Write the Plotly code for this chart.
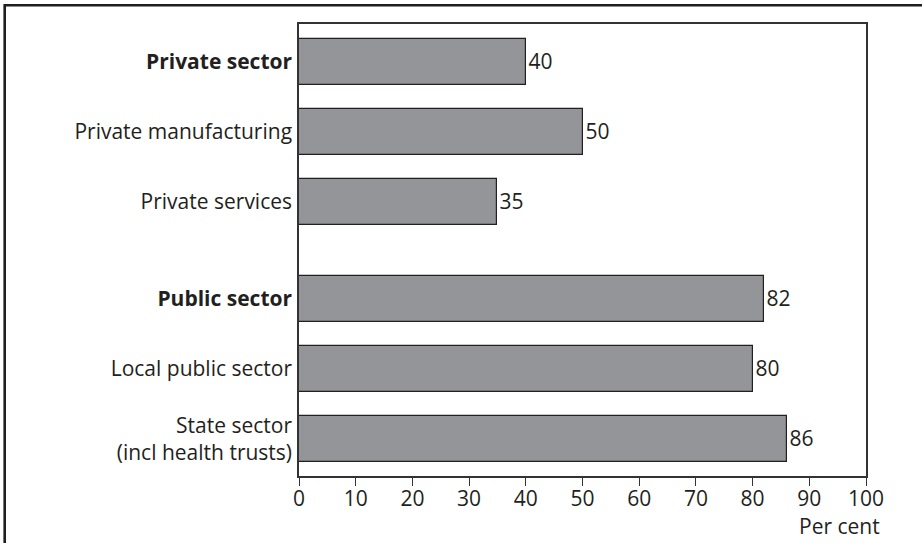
import plotly.graph_objects as go

# Share of employees, by sector (per cent)
categories = [
    "<b>Private sector</b>",
    "Private manufacturing",
    "Private services",
    "<b>Public sector</b>",
    "Local public sector",
    "State sector<br>(incl health trusts)",
]
values = [40, 50, 35, 82, 80, 86]
groups = [0, 0, 0, 1, 1, 1]
x_ticks = [0, 10, 20, 30, 40, 50, 60, 70, 80, 90, 100]

# Row positions: one slot per bar, with an extra gap between the two groups
GROUP_GAP = 0.38
y_pos = [i + g * GROUP_GAP for i, g in enumerate(groups)]

INK = "#231f20"
FONT = "Open Sans"
FS = 21

W, H = 922, 543
L, R, T, B = 299, 56, 24, 67
plot_w = W - L - R
plot_h = H - T - B

fig = go.Figure(
    go.Bar(
        x=values,
        y=y_pos,
        orientation="h",
        width=0.65,
        marker=dict(color="#939598", line=dict(color=INK, width=1.2)),
        text=[str(v) for v in values],
        textposition="outside",
        textfont=dict(family=FONT, size=FS, color=INK),
        cliponaxis=False,
        hoverinfo="skip",
    )
)

fig.update_xaxes(
    range=[0, 100],
    tickvals=x_ticks,
    ticks="outside",
    ticklen=8,
    tickwidth=1.2,
    tickcolor="#333333",
    ticklabelstandoff=-5,
    tickfont=dict(family=FONT, size=FS, color=INK),
    showgrid=False,
    zeroline=False,
    showline=True,
    linecolor="#333333",
    linewidth=1.5,
    mirror=True,
)
fig.update_yaxes(
    range=[y_pos[-1] + 0.525, -0.538],
    tickvals=y_pos,
    ticktext=categories,
    ticks="",
    ticklabelstandoff=1,
    tickfont=dict(family=FONT, size=FS, color=INK),
    showgrid=False,
    zeroline=False,
    showline=True,
    linecolor="#333333",
    linewidth=1.5,
    mirror=True,
)

def px_x(p):
    return (p - L) / plot_w

def px_y(p):
    return (H - B - p) / plot_h

# Outer frame around the figure (top and left edges fall inside the page)
fig.add_shape(
    type="rect",
    xref="paper", yref="paper",
    x0=px_x(4.7), x1=px_x(W + 20),
    y0=px_y(H + 20), y1=px_y(5.2),
    line=dict(color="#1e1e1e", width=2.6),
    fillcolor="rgba(0,0,0,0)",
    layer="above",
)

fig.add_annotation(
    text="Per cent",
    xref="paper", yref="paper",
    x=px_x(882), y=px_y(526),
    xanchor="right", yanchor="middle",
    showarrow=False,
    font=dict(family=FONT, size=FS, color=INK),
)

fig.update_layout(
    width=W,
    height=H,
    margin=dict(l=L, r=R, t=T, b=B),
    paper_bgcolor="white",
    plot_bgcolor="white",
    showlegend=False,
    bargap=0,
)

fig.write_html("out.html")
